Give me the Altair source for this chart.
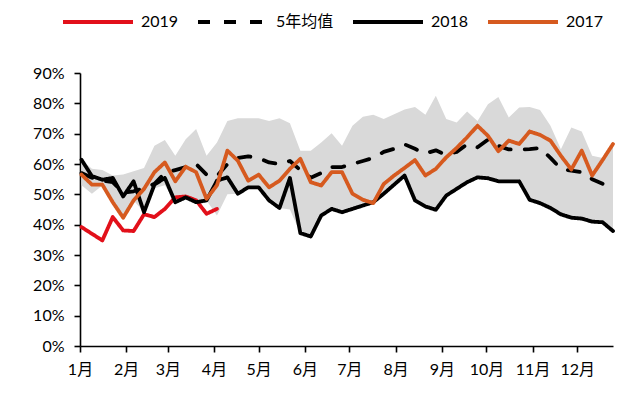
import altair as alt
import pandas as pd

FONT = "Lato, 'Noto Sans CJK SC', sans-serif"

# weekly observations (day of year of each weekly point)
week_day = [1 + 7 * i for i in range(52)]

month_day = [0, 31, 59, 90, 120, 151, 181, 212, 243, 273, 304, 334]
month_label = ["1月", "2月", "3月", "4月", "5月", "6月", "7月", "8月", "9月", "10月", "11月", "12月"]

y_ticks = [0, 0.1, 0.2, 0.3, 0.4, 0.5, 0.6, 0.7, 0.8, 0.9]

s2019 = [39.2, 37, 34.8, 42.5, 38.1, 37.9, 43.4, 42.5, 45.2, 49, 49.3, 48, 43.6, 45.2]

avg5 = [57, 55.5, 54.5, 54, 50.5, 51, 52, 53.5, 57, 58,
        59, 60, 56.5, 56, 60, 62, 62.5, 62, 60.5, 60,
        61, 58, 55.5, 57, 59, 59, 60, 61, 62, 64,
        65, 66.5, 65, 63.5, 64.5, 63, 64, 66.5, 65.5, 68,
        66, 64.8, 64.8, 64.9, 65.3, 62, 58.4, 57.8, 57.3, 55,
        53.5, 52]

s2018 = [61.4, 56, 54.8, 55.4, 49.3, 54.3, 44.1, 53.2, 55.4, 47.4,
         49, 47.4, 48, 54.5, 55.6, 50.2, 52.3, 52.3, 48, 45.5,
         55.4, 37.2, 36.1, 43, 45.2, 44.1, 45.2, 46.3, 47.4, 50.2,
         53.2, 56.2, 48, 46, 44.9, 49.6, 51.8, 54, 55.6, 55.3,
         54.3, 54.3, 54.3, 48.2, 47.1, 45.5, 43.4, 42.3, 42, 41,
         40.8, 37.9]

s2017 = [56.5, 53.2, 53.2, 47.4, 42.3, 48, 51.8, 57.3, 60.5, 54.3,
         59.1, 57.3, 48.5, 53, 64.4, 61.1, 54.5, 56.5, 52.3, 54.5,
         58.4, 61.7, 54, 52.9, 57.3, 57.3, 50.2, 48.2, 47.1, 53.4,
         56.2, 58.7, 61.3, 56.2, 58.4, 62.2, 65.3, 68.8, 72.6, 69.3,
         64.2, 67.7, 66.6, 70.7, 69.6, 67.7, 62.7, 58.2, 64.4, 56.2,
         61.3, 66.6]

band_hi = [61.4, 58.4, 58, 56.2, 56.5, 57.6, 58.7, 66, 67.9, 62.7,
           68.2, 71.5, 62.7, 67.1, 74.2, 75.1, 75.1, 75.1, 74.2, 75.1,
           73.4, 64.4, 64.4, 67.1, 70.1, 66, 72.6, 75.6, 76.2, 74.8,
           76.4, 78, 78.8, 76.2, 82.5, 74.8, 73.7, 77.3, 74.2, 79.7,
           82.1, 75.3, 78.6, 78.8, 77.8, 72.6, 64.9, 72, 70.7, 62.7,
           62, 66.6]

band_lo = [53, 50.2, 52.9, 47.4, 42.3, 48, 44.1, 52, 53, 47.4,
           49, 47.4, 48, 43, 50, 50.2, 52.3, 52.3, 48, 45.5,
           45, 37.2, 36.1, 43, 45.2, 44.1, 45.2, 46.3, 47.4, 50.2,
           53.2, 56.2, 48, 46, 44.9, 49.6, 51.8, 54, 55.6, 55.3,
           54.3, 54.3, 54.3, 48.2, 47.1, 45.5, 43.4, 42.3, 42, 41,
           40.8, 37.9]

series_names = ["2019", "5年均值", "2018", "2017"]
series_values = [s2019, avg5, s2018, s2017]
series_colors = ["#E2101A", "#000000", "#000000", "#D65A1F"]
series_dash = [[1, 0], [12, 14], [1, 0], [1, 0]]

rows = []
for name, vals in zip(series_names, series_values):
    for d, v in zip(week_day, vals):
        rows.append({"day": d, "value": v / 100.0, "series": name})
lines_df = pd.DataFrame(rows)

band_df = pd.DataFrame({
    "day": week_day,
    "lo": [v / 100.0 for v in band_lo],
    "hi": [v / 100.0 for v in band_hi],
})

x_scale = alt.Scale(domain=[0, 358], nice=False, zero=False)
y_scale = alt.Scale(domain=[0, 0.9], nice=False)

label_expr = "[" + ",".join("'%s'" % m for m in month_label) + "][indexof([" + \
    ",".join(str(d) for d in month_day) + "], datum.value)]"

x_axis = alt.Axis(values=month_day, labelExpr=label_expr, title=None, grid=False,
                  tickSize=6, labelPadding=9, labelAngle=0, labelFlush=False)
y_axis = alt.Axis(values=y_ticks, format=".0%", title=None, grid=False,
                  tickSize=6, labelPadding=10, labelFlush=False)

band = alt.Chart(band_df).mark_area(color="#D9D9D9").encode(
    x=alt.X("day:Q", scale=x_scale, axis=x_axis),
    y=alt.Y("lo:Q", scale=y_scale, axis=y_axis),
    y2="hi:Q",
)

legend = alt.Legend(
    orient="none", legendX=-19, legendY=-88, direction="horizontal", columns=4,
    symbolType="stroke", symbolSize=4900, symbolStrokeWidth=4,
    labelFont=FONT, labelFontSize=16, labelColor="#000000", labelOffset=6,
    columnPadding=11, title=None, padding=0,
)
color = alt.Color("series:N", scale=alt.Scale(domain=series_names, range=series_colors), legend=legend)
dash = alt.StrokeDash("series:N", scale=alt.Scale(domain=series_names, range=series_dash), legend=legend)

layers = [band]
for name in series_names:
    layers.append(
        alt.Chart(lines_df)
        .transform_filter(alt.datum.series == name)
        .mark_line(strokeWidth=3.8, strokeJoin="round", strokeCap="round")
        .encode(
            x=alt.X("day:Q", scale=x_scale, axis=x_axis),
            y=alt.Y("value:Q", scale=y_scale, axis=y_axis),
            color=color,
            strokeDash=dash,
        )
    )

chart = (
    alt.layer(*layers)
    .properties(
        width=533, height=273,
        padding={"left": 72, "top": 65, "right": 22, "bottom": 47},
        autosize=alt.AutoSizeParams(type="none"),
        background="#FFFFFF",
    )
    .configure_view(stroke=None)
    .configure_axis(
        domainColor="#000000", domainWidth=1.6, tickColor="#000000", tickWidth=1.6,
        labelFont=FONT, labelFontSize=16, labelColor="#000000",
    )
)

chart.save("out.html", embed_options={"renderer": "svg", "actions": False})
